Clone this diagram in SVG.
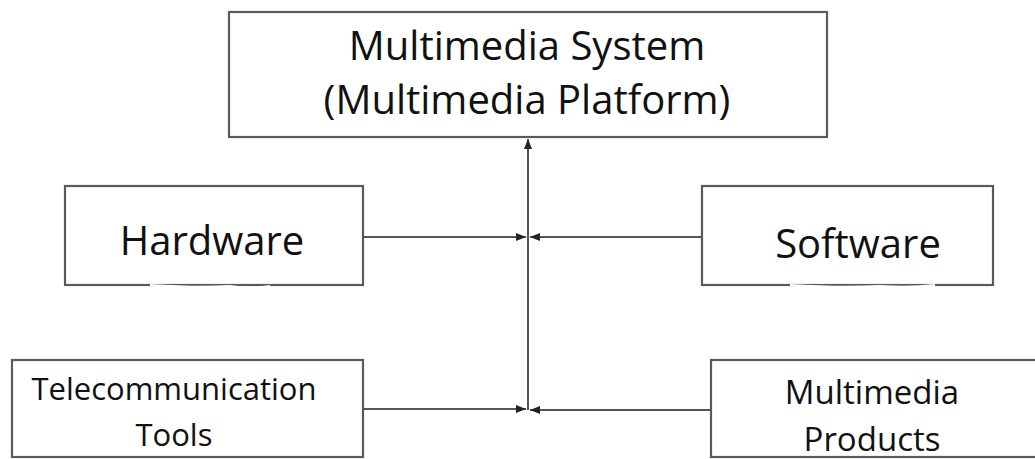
<svg xmlns="http://www.w3.org/2000/svg" width="1035" height="459" viewBox="0 0 1035 459">
  <style>
    .box { fill: #ffffff; stroke: #5a5a5a; stroke-width: 2.2; }
    .lbl { font-family: "Open Sans", "Noto Sans", "Liberation Sans", sans-serif; fill: #111111; text-anchor: middle; }
    .link { stroke: #555555; stroke-width: 2; fill: none; }
    .patch { fill: #ffffff; stroke: none; }
  </style>
  <defs>
    <marker id="head" viewBox="0 0 10 8" refX="10" refY="4" markerWidth="10" markerHeight="8" markerUnits="userSpaceOnUse" orient="auto">
      <path d="M0,0 L10,4 L0,8 Z" fill="#222222"/>
    </marker>
  </defs>

  <rect width="1035" height="459" fill="#ffffff"/>

  <g id="connectors">
    <line class="link" x1="528" y1="410" x2="528" y2="139" marker-end="url(#head)"/>
    <line class="link" x1="363" y1="237" x2="526" y2="237" marker-end="url(#head)"/>
    <line class="link" x1="703" y1="237" x2="530" y2="237" marker-end="url(#head)"/>
    <line class="link" x1="363" y1="409" x2="526" y2="409" marker-end="url(#head)"/>
    <line class="link" x1="711" y1="410" x2="530" y2="410" marker-end="url(#head)"/>
  </g>

  <g id="multimedia-system">
    <rect class="box" x="229" y="12" width="598" height="125"/>
    <text class="lbl" x="527" y="60" font-size="40">Multimedia System</text>
    <text class="lbl" x="527" y="114" font-size="40">(Multimedia Platform)</text>
  </g>

  <g id="hardware">
    <rect class="box" x="65" y="186" width="298" height="99"/>
    <path class="patch" d="M150,284 Q200,287 230,285 Q250,288 270,285 L270,290 L150,290 Z"/>
    <text class="lbl" x="212" y="255" font-size="40">Hardware</text>
  </g>

  <g id="software">
    <rect class="box" x="702" y="186" width="291" height="99"/>
    <path class="patch" d="M790,284 Q840,287 880,285 Q910,287 935,284 L935,290 L790,290 Z"/>
    <text class="lbl" x="858" y="258" font-size="40">Software</text>
  </g>

  <g id="telecommunication-tools">
    <rect class="box" x="12" y="360" width="351" height="97"/>
    <text class="lbl" x="174" y="400" font-size="31">Telecommunication</text>
    <text class="lbl" x="174" y="446" font-size="31">Tools</text>
  </g>

  <g id="multimedia-products">
    <rect class="box" x="711" y="360" width="340" height="97"/>
    <text class="lbl" x="872" y="404" font-size="33">Multimedia</text>
    <text class="lbl" x="872" y="451" font-size="33">Products</text>
  </g>
</svg>
